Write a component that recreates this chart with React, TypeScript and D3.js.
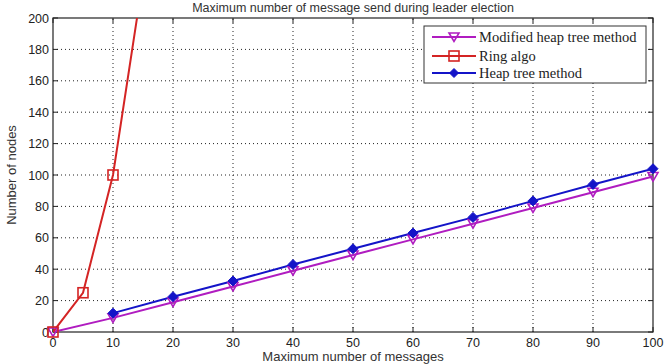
import React from "react";
import * as d3 from "d3";

const W = 665;
const H = 364;

const xTicks = [0, 10, 20, 30, 40, 50, 60, 70, 80, 90, 100];
const yTicks = [0, 20, 40, 60, 80, 100, 120, 140, 160, 180, 200];

const modX = [0, 10, 20, 30, 40, 50, 60, 70, 80, 90, 100];
const modY = [0, 9, 19, 29, 39, 49, 59, 69, 79, 89, 99];

const ringX = [0, 5, 10, 15];
const ringY = [0, 25, 100, 225];

const heapX = [10, 20, 30, 40, 50, 60, 70, 80, 90, 100];
const heapY = [12, 22.5, 32.5, 43, 53, 63, 73, 83.5, 94, 104];

const seriesNames = ["Modified heap tree method", "Ring algo", "Heap tree method"];

const margin = { left: 53, right: 12, top: 18, bottom: 32 };

export default function App() {
  const x = d3.scaleLinear().domain([0, 100]).range([margin.left, W - margin.right]);
  const y = d3.scaleLinear().domain([0, 200]).range([H - margin.bottom, margin.top]);
  const line = d3
    .line<[number, number]>()
    .x((d) => x(d[0]))
    .y((d) => y(d[1]));

  const mod = modX.map((v, i) => [v, modY[i]] as [number, number]);
  const ring = ringX.map((v, i) => [v, ringY[i]] as [number, number]);
  const heap = heapX.map((v, i) => [v, heapY[i]] as [number, number]);

  const magenta = "#b01cc0";
  const red = "#d42424";
  const blue = "#1414c8";

  const x0 = x(0), x1 = x(100), y0 = y(0), y1 = y(200);
  const tickFont = "'Liberation Sans', Arial, sans-serif";

  const tri = (cx: number, cy: number, s: number) =>
    `M${cx - s},${cy - s * 0.8}L${cx + s},${cy - s * 0.8}L${cx},${cy + s * 0.9}Z`;
  const diamond = (cx: number, cy: number, s: number) =>
    `M${cx},${cy - s}L${cx + s},${cy}L${cx},${cy + s}L${cx - s},${cy}Z`;

  const legX = 424, legY = 26, legW = 222, legH = 57;
  const legRows = [37, 56, 73];
  const inPlot = (d: [number, number]) => d[1] <= 200;

  return (
    <svg
      width={W}
      height={H}
      style={{ position: "absolute", left: 0, top: 0, background: "#fff" }}
    >
      <defs>
        <clipPath id="plotClip">
          <rect x={x0} y={y1} width={x1 - x0} height={y0 - y1} />
        </clipPath>
      </defs>
      <rect x={0} y={0} width={W} height={H} fill="#fff" />
      {/* grid */}
      {xTicks.slice(1, -1).map((t) => (
        <line key={"gx" + t} x1={x(t)} x2={x(t)} y1={y0} y2={y1} stroke="#222" strokeWidth={1} strokeDasharray="1,3" />
      ))}
      {yTicks.slice(1, -1).map((t) => (
        <line key={"gy" + t} x1={x0} x2={x1} y1={y(t)} y2={y(t)} stroke="#222" strokeWidth={1} strokeDasharray="1,3" />
      ))}
      {/* tick marks */}
      {xTicks.map((t) => (
        <g key={"tx" + t}>
          <line x1={x(t)} x2={x(t)} y1={y0} y2={y0 - 5} stroke="#222" />
          <line x1={x(t)} x2={x(t)} y1={y1} y2={y1 + 5} stroke="#222" />
          <text x={x(t)} y={y0 + 15} textAnchor="middle" fontSize={12.5} fontFamily={tickFont} fill="#222">{t}</text>
        </g>
      ))}
      {yTicks.map((t) => (
        <g key={"ty" + t}>
          <line x1={x0} x2={x0 + 5} y1={y(t)} y2={y(t)} stroke="#222" />
          <line x1={x1} x2={x1 - 5} y1={y(t)} y2={y(t)} stroke="#222" />
          <text x={x0 - 4} y={y(t) + 4.5} textAnchor="end" fontSize={12.5} fontFamily={tickFont} fill="#222">{t}</text>
        </g>
      ))}
      {/* frame */}
      <rect x={x0} y={y1} width={x1 - x0} height={y0 - y1} fill="none" stroke="#222" strokeWidth={1.2} />
      {/* series */}
      <g clipPath="url(#plotClip)">
        <path d={line(mod) || ""} fill="none" stroke={magenta} strokeWidth={2} />
        <path d={line(ring) || ""} fill="none" stroke={red} strokeWidth={2} />
        <path d={line(heap) || ""} fill="none" stroke={blue} strokeWidth={2} />
      </g>
      {mod.map((d, i) => (
        <path key={"m" + i} d={tri(x(d[0]), y(d[1]), 5)} fill="none" stroke={magenta} strokeWidth={1.6} />
      ))}
      {ring.filter(inPlot).map((d, i) => (
        <rect key={"r" + i} x={x(d[0]) - 5} y={y(d[1]) - 5} width={10} height={10} fill="none" stroke={red} strokeWidth={1.6} />
      ))}
      {heap.map((d, i) => (
        <path key={"h" + i} d={diamond(x(d[0]), y(d[1]), 5)} fill={blue} stroke={blue} strokeWidth={1} />
      ))}
      {/* legend */}
      <rect x={legX} y={legY} width={legW} height={legH} fill="#fff" stroke="#333" strokeWidth={1} />
      {seriesNames.map((name, i) => {
        const cy = legRows[i];
        const col = [magenta, red, blue][i];
        const lx1 = 432, lx2 = 476, mx = 454;
        return (
          <g key={"leg" + i}>
            <line x1={lx1} x2={lx2} y1={cy} y2={cy} stroke={col} strokeWidth={2} />
            {i === 0 && <path d={tri(mx, cy, 5)} fill="none" stroke={col} strokeWidth={1.6} />}
            {i === 1 && <rect x={mx - 5} y={cy - 5} width={10} height={10} fill="none" stroke={col} strokeWidth={1.6} />}
            {i === 2 && <path d={diamond(mx, cy, 4.5)} fill={col} stroke={col} />}
            <text x={479} y={cy + 5} fontSize={14.5} fontFamily="'Liberation Serif', 'Times New Roman', serif" fill="#222">{name}</text>
          </g>
        );
      })}
      {/* titles */}
      <text x={(x0 + x1) / 2} y={11.5} textAnchor="middle" fontSize={12.5} fontFamily={tickFont} fill="#333">
        Maximum number of message send during leader election
      </text>
      <text x={(x0 + x1) / 2} y={361} textAnchor="middle" fontSize={13} fontFamily={tickFont} fill="#333">
        Maximum number of messages
      </text>
      <text transform={`translate(16, ${(y0 + y1) / 2}) rotate(-90)`} textAnchor="middle" fontSize={13} fontFamily={tickFont} fill="#333">
        Number of nodes
      </text>
    </svg>
  );
}
